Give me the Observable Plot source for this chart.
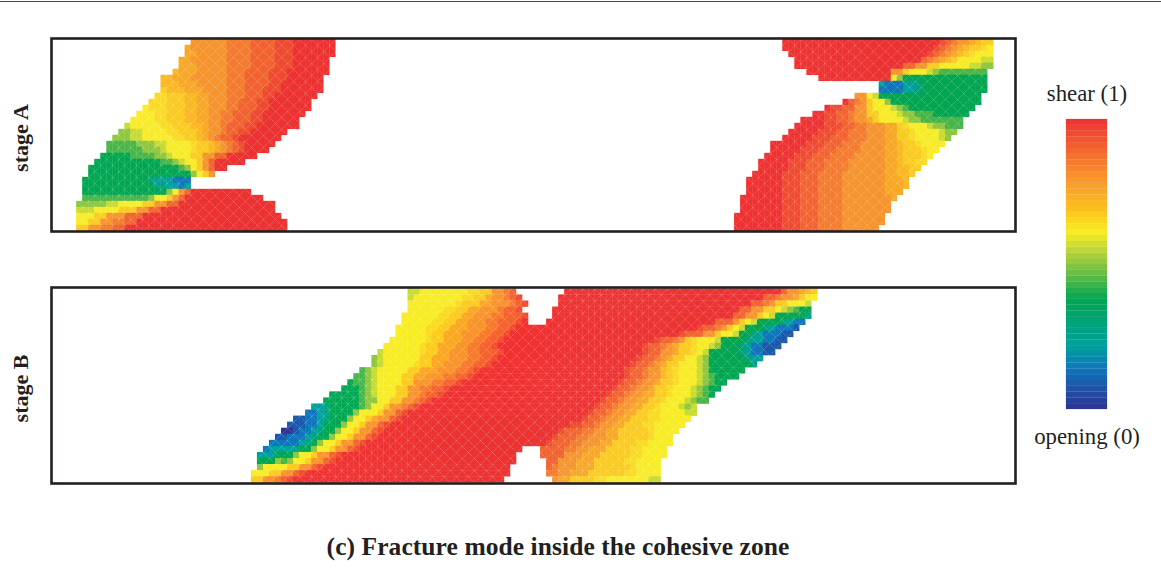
<!DOCTYPE html>
<html>
<head>
<meta charset="utf-8">
<script src="https://cdn.jsdelivr.net/npm/d3@7"></script>
<script src="https://cdn.jsdelivr.net/npm/@observablehq/plot@0.6"></script>
<style>
html,body{margin:0;padding:0;background:#fff;}
#page{position:relative;width:1161px;height:580px;overflow:hidden;font-family:"Liberation Serif",serif;color:#231f20;}
#page svg{position:absolute;background:transparent;}
#topline{position:absolute;left:0;top:1px;width:1161px;height:1px;background:#444;}
#caption{position:absolute;left:0;width:1116px;top:532px;text-align:center;font-weight:bold;font-size:25.5px;letter-spacing:.07px;white-space:nowrap;}
</style>
</head>
<body>
<div id="page"><div id="topline"></div><div id="caption">(c) Fracture mode inside the cohesive zone</div></div>
<script>
// Fracture-mode level of each letter (0 = opening, 1 = shear)
const levelLetters = ["N","b","B","T","t","H","G","g","L","l","Y","y","K","k","o","O","P","r","Q","R"];
const levelValues  = [0,.08,.14,.22,.28,.33,.38,.44,.5,.56,.61,.64,.67,.71,.75,.8,.85,.9,.95,1];
const colorStops   = [0,.14,.22,.38,.5,.61,.69,.8,1];
const colorRange   = ["#2e3192","#0f75bc","#00a19c","#00a651","#8dc63f","#f8ec26","#fcc01e","#f7942d","#ee3131"];
const stages = ["stage A","stage B"];
const legendLabels = ["shear (1)","opening (0)"];
const colorbarBands = d3.range(0,1,1/50);

// Each row: "startColumn:letterCount..." (left to right), rows top to bottom
const stageALeft = [
"19:O6P4r4Q3R7","18:o1O6P4r4Q3R7","18:o2O5P4r4Q3R7","17:o2O6P4r4Q3R6","17:o3O5P4r4Q3R6","16:k1o3O5P3r4Q3R7",
"14:k2o3O6P3r4Q3R6","14:k3o3O5P3r4Q2R7","14:K1k3o3O4P3r3Q3R7","13:y2K3k2o2O3P3r3Q2R7","12:y3K3k2o2O3P2r3Q2R7","11:Y1y3K3k2o2O3P2r3Q2R7",
"10:Y3y2K3k2o2O2P2r3Q2R7","9:Y4y2K3k2o2O2P2r3Q2R6","8:l1Y5y2K3k2o1O2P1r3Q2R7","7:L2l2Y4y2K3k1o1O2P1r2Q2R6","6:L3l2Y5y2K2k1o1O1P1r2Q1R7",
"5:g5L3l2Y4y1K2k1o1O1P1r1Q1R5","5:g6L3l1Y4y1K2k1o1O1P1r1Q1R4","4:G5g4L2l1Y3K2O2r2R5","3:G11g2L1l1Y2K1O1r1R5","2:G15g1L1Y1K1O1r1R2",
"2:G17L1Y1K1O1","1:G11t1T3B3","1:G12t2T2B1T1","1:G14L1Y1O1r1R10","1:g11L1Y2K1O1r1R13","0:L5l2Y4K2O2r2R16","0:l3Y4K3O2r2R19","0:Y3K2O3r3R23",
"0:Y2K2O2P2r2R25","0:K2O2P2r2R27"];
const stageARight = [
"8:R26Q1r1P1O2o1k1K2","8:R25Q1r1P1O1o1k1K2y1Y1","9:R23Q1r1P1O1o1k1K1y1Y3","10:R21r1P1O1o1k1K1Y4l2","10:R18r2O2K2Y5l2L2","12:R14O2K1Y3l1L1g8",
"14:R12Y1L1G14","24:T1B3T2t1G11","24:B4T2t1G11","20:O2Y1l1G17","18:R1r1P1O1K1Y2L1G15","15:R1Q2r2O2K1Y3l1L1g1G11",
"13:R2Q2r2P1O2K2Y3l1L2g3G6","11:R4Q2r2P1O2o1K1Y4l1L2g7","10:R5Q3r2P2O3o2K1y1Y3l1L2g3","9:R5Q3r2P3O3o2K2y1Y4l1L2","8:R5Q3r3P3O3o2K2y1Y4l1L1","6:R6Q3r3P3O4o2k1K2y1Y4",
"6:R5Q3r3P4O4o2k1K3y1Y2","5:R5Q3r3P4O5o2k1K3y1Y1","4:R5Q3r3P4O6o2k1K2y2","4:R5Q3r3P4O6o2k2K2","3:R5Q3r3P4O7o2k2K1","2:R6Q3r3P4O7o3k1",
"2:R6Q3r3P4O7o3k1","2:R6Q3r3P4O7o3","1:R7Q3r3P4O8o1","1:R7Q3r3P4O8","1:R7Q3r3P4O8","0:R8Q3r3P4O7","0:R8Q3r3P4O7","0:R8Q3r3P4O6"];
const stageB = [
"26:l2Y8y2K2O2P1r1 52:R36r1O2o1k1K1",
"26:l1Y8y2K2o1O2P1r1Q1 51:R34r2P1O2o1K1Y2",
"26:Y8y1K3o2O3P1r1Q1 51:R32r2P1O1K2Y3l1",
"26:Y6y2K2o2O3P1r2Q1 50:R31r2O2K2Y1l1L1g1G2",
"25:Y6y2K2o2O3P2r3Q1 50:R30r2O2K1Y1l1G5t1",
"25:Y5y2K2o2O3P2r3Q1R1 49:R28r3O1K1Y1l1G4t1T1B2",
"24:Y5y2K2o3O3P2r2Q1R30Q1r2P1O1K1Y1l1G3t1T1B3b1",
"24:Y5y1K2o3O3P2r2Q1R28Q1r3O2K1Y2l1G2t1T1B3b2",
"23:Y6y1K2o3O2P2r2Q1R25Q1r2P1O1K1y1Y3l1G4t1T2B2b2",
"22:Y6y1K2o3O2P2r2Q1R24Q1r2P1O1o1K2y1Y2l1L1G3t1T1B2b3",
"21:l1Y6y1K2o2O3P2r3Q1R23Q1r2O2o1K2y1Y1l1G5t1T1B2b2",
"20:L1l1Y6K2o3O3P2r2Q1R23Q1r2P1O1o1K2Y2l1L1G6t1T2",
"20:L1l1Y5y1K2o2O3P2r2Q1R23Q1r2P1O1o1K2Y3l1L1G7t1",
"18:g1L1l1Y5K2o3O3P2r1Q1R24Q1r2P1O2k1K1y1Y3l1L1G6",
"17:g2L1l1Y4K2o2O3P2r2Q1R25Q1r2P1O2k1K1y1Y3l1L1g1G4",
"16:G1g2L1l1Y4K2O3P2r2Q1R26Q1r2P1O2o1K2y1Y3l1L1g1G2",
"15:G3g1L1l1Y3K2O2P2r2Q1R27Q1r2P1O2o1K2y1Y3l1L1g1G2",
"13:G5g1L1l1Y3K2O2P1r2Q1R27Q1r2P1O2o2K2y1Y3l1L1g1G1",
"12:G6g1L2Y2K2O2P1r1Q1R28Q1r2P1O2o2K2y1Y3l1L1g2",
"10:T2t1G5g1L1Y2K1O2P1r1Q1R29Q1r2P1O2o2K2y1Y3l1L1l1",
"9:B2T1t1G4L1Y3K1O2r1Q1R30Q1r2P1O2o2K2y2Y4l2",
"7:b2B2T1t1G3L1Y2K1o1O2r1Q1R30Q1r2P1O2o2K3y2Y5",
"6:b3B2T1G3L1Y2K1O2r1Q1R30Q2r2P1O2o2K3y2Y5",
"5:N2b1B2T1t1G2L1Y2K1O2r1Q1R29Q1r3P2O2o2K5y1Y4",
"4:b2B3T1t1G2L1Y2K1O2r1Q1R29Q1r3P2O3o2K5y1Y3",
"3:B5T1t1G1L1Y2K1O2r1Q1R30Q1r3P2O3o2K4y2Y4",
"2:B1T4t1G2L1Y2K1O2r1Q1R27 48:r4P2O2o3K4y2Y4",
"1:T3G3L1Y2K1O2r1Q1R29 48:r4O3o3K5y2Y4",
"1:G3L1g1L1Y2K1O2r1Q1R30 49:r2O3o3K5y2Y4",
"1:L1Y4K2O2r1Q1R31 49:r1P1O3o3K6y1Y4",
"0:Y3K2O2r1Q1R34 49:P2O2o3K6y2Y4",
"0:K2O2P1r1Q1R35 50:O1o2K4y2Y7l2"];

// Column of the panel's 160-column mesh where each lobe's column 0 lies
const firstColumnALeft = 4.2, firstColumnARight = 113.4, firstColumnB = 33.2;

const levelOf = Object.fromEntries(levelLetters.map((l,i)=>[l,levelValues[i]]));
function cellsFrom(rows, firstColumn){
  const out=[];
  rows.forEach((row,r)=>row.split(" ").forEach(seg=>{
    const [start,runs]=seg.split(":");
    let c=+start;
    for(const m of runs.matchAll(/([A-Za-z])(\d+)/g)){
      for(let i=0;i<+m[2];i++){out.push({col:firstColumn+c,odd:(c+r)%2===1,row:r,value:levelOf[m[1]]});c++;}
    }
  }));
  return out;
}
const colorScale={type:"linear",domain:colorStops,range:colorRange,interpolate:"rgb"};
const FONT="Liberation Serif";

function panel(cells,label,top,height,yDomain){
  const svg=Plot.plot({
    width:1030,height,marginLeft:51,marginRight:15,marginTop:10,marginBottom:10,
    style:{fontFamily:FONT,background:"transparent"},
    x:{domain:[0,160],axis:null},
    y:{domain:yDomain,axis:null,reverse:true},
    color:colorScale,
    marks:[
      Plot.rect(cells,{x1:"col",x2:d=>d.col+1,y1:"row",y2:d=>d.row+1,fill:"value",inset:-0.15}),
      Plot.link(cells,{x1:"col",x2:d=>d.col+1,y1:d=>d.odd?d.row:d.row+1,y2:d=>d.odd?d.row+1:d.row,stroke:"#fff",strokeOpacity:.4,strokeWidth:.7,strokeDasharray:"1.2 0.8"}),
      Plot.frame({stroke:"#231f20",strokeWidth:2.6}),
      Plot.text([label],{frameAnchor:"left",textAnchor:"middle",lineAnchor:"middle",rotate:-90,dx:-31,dy:3,fontSize:22,fontWeight:"bold",fill:"#231f20"})
    ]
  });
  svg.style.left="0px";svg.style.top=top+"px";
  document.getElementById("page").appendChild(svg);
}
panel([...cellsFrom(stageALeft,firstColumnALeft),...cellsFrom(stageARight,firstColumnARight)],stages[0],28,213,[-0.15,32]);
panel(cellsFrom(stageB,firstColumnB),stages[1],276.5,216,[-0.25,32.1]);

const bar=Plot.plot({
  width:131,height:390,marginLeft:36,marginRight:54,marginTop:49,marginBottom:51,
  style:{fontFamily:FONT,background:"transparent"},
  x:{domain:[0,1],axis:null},
  y:{domain:[0,1],axis:null},
  color:colorScale,
  marks:[
    Plot.rect(colorbarBands,{x1:0,x2:1,y1:d=>d,y2:d=>d+1/50,fill:d=>d+1/100,inset:-0.1}),
    Plot.text([legendLabels[0]],{frameAnchor:"top",textAnchor:"middle",lineAnchor:"middle",dy:-26,fontSize:22.8,fill:"#231f20"}),
    Plot.text([legendLabels[1]],{frameAnchor:"bottom",textAnchor:"middle",lineAnchor:"middle",dy:27,fontSize:22.8,fill:"#231f20"})
  ]
});
bar.style.left="1030px";bar.style.top="70px";
document.getElementById("page").appendChild(bar);
</script>
</body>
</html>
